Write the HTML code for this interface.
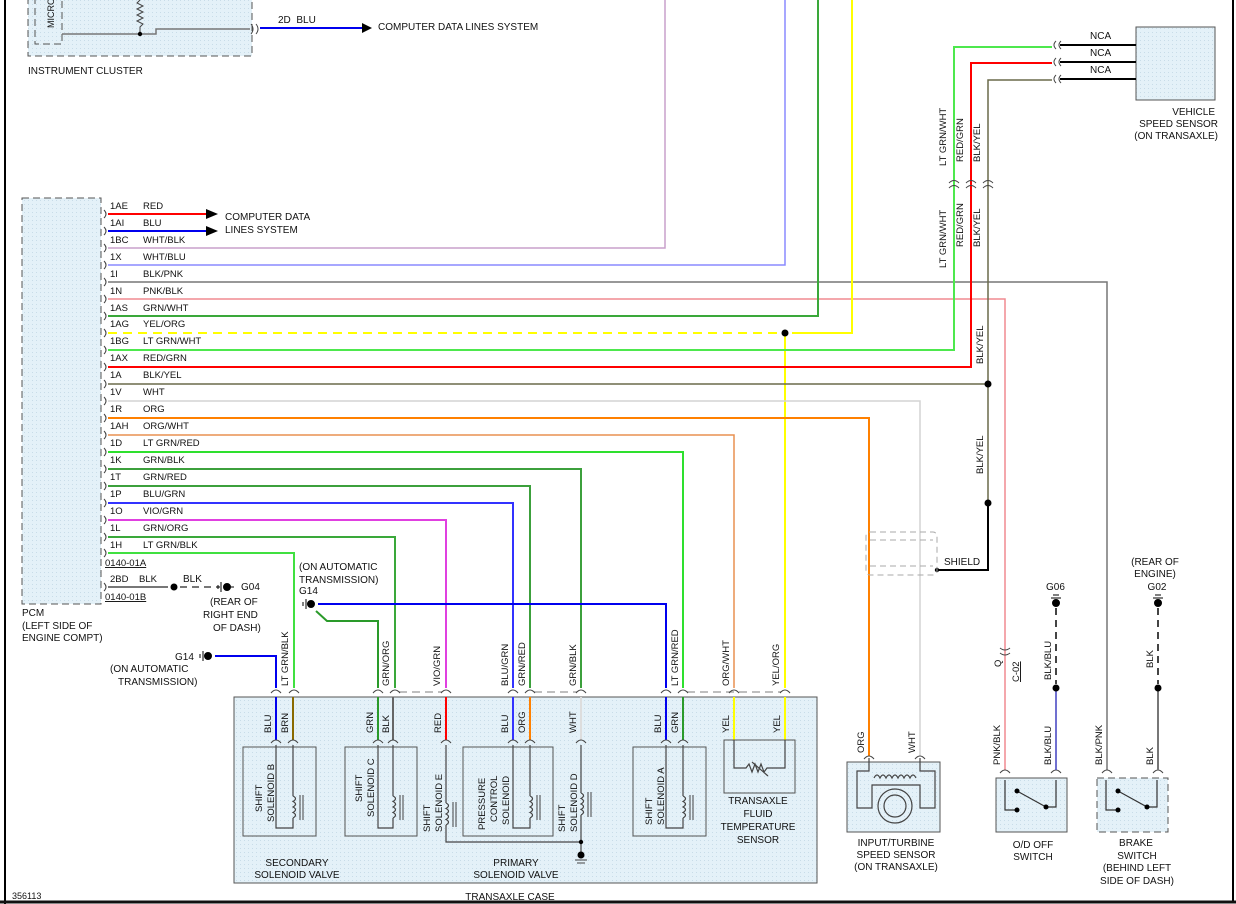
<!DOCTYPE html>
<html><head><meta charset="utf-8"><style>
html,body{margin:0;padding:0;background:#fff;}
svg{display:block;font-family:"Liberation Sans",sans-serif;font-size:10px;}
text{fill:#111;}
</style></head><body>
<svg width="1236" height="904" viewBox="0 0 1236 904" xmlns="http://www.w3.org/2000/svg">
<defs>
<pattern id="dots" width="4" height="4" patternUnits="userSpaceOnUse"><rect width="4" height="4" fill="#e4f1f8"/><rect width="1" height="1" fill="#c8dce8"/></pattern>
</defs>
<!-- frame -->
<line x1="5" y1="0" x2="5" y2="904" stroke="#000" stroke-width="2"/>
<line x1="1233" y1="0" x2="1233" y2="902" stroke="#000" stroke-width="2"/>
<line x1="0" y1="902" x2="1236" y2="902" stroke="#111" stroke-width="3"/>

<!-- instrument cluster -->
<rect x="28" y="-5" width="224" height="61" fill="url(#dots)" stroke="#555" stroke-dasharray="7,4"/>
<rect x="35" y="-5" width="27" height="49" fill="url(#dots)" stroke="#555" stroke-dasharray="7,4"/>
<text transform="translate(54,28) rotate(-90)" font-size="9">MICRO</text>
<polyline points="140,0 137,3 143,6 137,9 143,12 137,15 143,18 137,21 143,24 140,27 140,34" fill="none" stroke="#444"/>
<polyline points="62,34 156,34 156,29 250,29" fill="none" stroke="#777" stroke-width="1.5"/>
<circle cx="140" cy="34" r="2.2" fill="#000"/>
<path d="M251,24 q4,5 0,10 M256,24 q4,5 0,10" fill="none" stroke="#444"/>
<line x1="260" y1="28" x2="365" y2="28" stroke="#0000ee" stroke-width="2"/>
<polygon points="362,23 372,28 362,33" fill="#000"/>
<text x="278" y="23">2D&#160; BLU</text>
<text x="378" y="30">COMPUTER DATA LINES SYSTEM</text>
<text x="28" y="74">INSTRUMENT CLUSTER</text>

<!-- PCM -->
<rect x="22" y="198" width="79" height="406" fill="url(#dots)" stroke="#555" stroke-dasharray="7,4"/>
<text x="22" y="616">PCM</text><text x="22" y="629">(LEFT SIDE OF</text><text x="22" y="641">ENGINE COMPT)</text>
<g stroke="#444" fill="none">
<path d="M104,210 q4,4 0,8 M104,227 q4,4 0,8 M104,244 q4,4 0,8 M104,261 q4,4 0,8 M104,278 q4,4 0,8 M104,295 q4,4 0,8 M104,312 q4,4 0,8 M104,329 q4,4 0,8 M104,346 q4,4 0,8 M104,363 q4,4 0,8 M104,380 q4,4 0,8 M104,397 q4,4 0,8 M104,414 q4,4 0,8 M104,431 q4,4 0,8 M104,448 q4,4 0,8 M104,465 q4,4 0,8 M104,482 q4,4 0,8 M104,499 q4,4 0,8 M104,516 q4,4 0,8 M104,533 q4,4 0,8 M104,549 q4,4 0,8 M104,583 q4,4 0,8"/>
</g>
<g font-size="9.5">
<text x="110" y="209">1AE</text><text x="143" y="209">RED</text>
<text x="110" y="226">1AI</text><text x="143" y="226">BLU</text>
<text x="110" y="243">1BC</text><text x="143" y="243">WHT/BLK</text>
<text x="110" y="260">1X</text><text x="143" y="260">WHT/BLU</text>
<text x="110" y="277">1I</text><text x="143" y="277">BLK/PNK</text>
<text x="110" y="294">1N</text><text x="143" y="294">PNK/BLK</text>
<text x="110" y="311">1AS</text><text x="143" y="311">GRN/WHT</text>
<text x="110" y="327">1AG</text><text x="143" y="327">YEL/ORG</text>
<text x="110" y="344">1BG</text><text x="143" y="344">LT GRN/WHT</text>
<text x="110" y="361">1AX</text><text x="143" y="361">RED/GRN</text>
<text x="110" y="378">1A</text><text x="143" y="378">BLK/YEL</text>
<text x="110" y="395">1V</text><text x="143" y="395">WHT</text>
<text x="110" y="412">1R</text><text x="143" y="412">ORG</text>
<text x="110" y="429">1AH</text><text x="143" y="429">ORG/WHT</text>
<text x="110" y="446">1D</text><text x="143" y="446">LT GRN/RED</text>
<text x="110" y="463">1K</text><text x="143" y="463">GRN/BLK</text>
<text x="110" y="480">1T</text><text x="143" y="480">GRN/RED</text>
<text x="110" y="497">1P</text><text x="143" y="497">BLU/GRN</text>
<text x="110" y="514">1O</text><text x="143" y="514">VIO/GRN</text>
<text x="110" y="531">1L</text><text x="143" y="531">GRN/ORG</text>
<text x="110" y="548">1H</text><text x="143" y="548">LT GRN/BLK</text>
<text x="105" y="566" text-decoration="underline">0140-01A</text>
<text x="110" y="582">2BD</text><text x="139" y="582">BLK</text>
<text x="105" y="600" text-decoration="underline">0140-01B</text>
</g>

<!-- wires -->
<g fill="none" stroke-width="2">
<line x1="108" y1="214" x2="208" y2="214" stroke="#f00"/>
<line x1="108" y1="231" x2="208" y2="231" stroke="#00e"/>
<polyline points="108,248 665,248 665,0" stroke="#c8a0cc" stroke-width="1.5"/>
<polyline points="108,265 785,265 785,0" stroke="#8a8aff" stroke-width="1.5"/>
<polyline points="108,282 1107,282 1107,770" stroke="#777" stroke-width="1.5"/>
<polyline points="108,299 1005,299 1005,770" stroke="#f08a90" stroke-width="1.5"/>
<polyline points="108,316 818,316 818,0" stroke="#3aa83a"/>
<line x1="108" y1="333" x2="780" y2="333" stroke="#ff0" stroke-dasharray="9,6"/>
<polyline points="792,333 852,333 852,0" stroke="#ff0"/>
<line x1="785" y1="333" x2="785" y2="688" stroke="#ff0"/>
<polyline points="108,350 954,350 954,47 1052,47" stroke="#4de84d"/>
<polyline points="108,367 971,367 971,63 1052,63" stroke="#f00"/>
<polyline points="108,384 988,384" stroke="#6a6a4a" stroke-width="1.5"/>
<polyline points="988,503 988,80 1052,80" stroke="#6a6a4a" stroke-width="1.5"/>
<polyline points="108,401 920,401 920,756" stroke="#d4d4d4" stroke-width="1.5"/>
<polyline points="108,418 869,418 869,756" stroke="#ff8000"/>
<polyline points="108,435 734,435 734,688" stroke="#e89050" stroke-width="1.5"/>
<polyline points="108,452 683,452 683,688" stroke="#2ee02e"/>
<polyline points="108,469 581,469 581,688" stroke="#3ca03c"/>
<polyline points="108,486 530,486 530,688" stroke="#3ca03c"/>
<polyline points="108,503 513,503 513,688" stroke="#33f" />
<polyline points="108,520 446,520 446,688" stroke="#e040e0"/>
<polyline points="108,537 395,537 395,688" stroke="#3aa83a"/>
<polyline points="108,553 294,553 294,688" stroke="#40e040"/>
<line x1="108" y1="587" x2="168" y2="587" stroke="#777"/>
<line x1="180" y1="587" x2="220" y2="587" stroke="#777" stroke-dasharray="7,5"/>
<polyline points="318,604 666,604 666,688" stroke="#00e"/>
<polyline points="316,611 327,621 378,621 378,688" stroke="#2a9a2a"/>
<polyline points="215,656 276,656 276,688" stroke="#00e"/>
<polyline points="988,503 988,570 937,570" stroke="#000"/>
</g>
<polygon points="206,209 218,214 206,219" fill="#000"/>
<polygon points="206,226 218,231 206,236" fill="#000"/>
<text x="225" y="220">COMPUTER DATA</text><text x="225" y="233">LINES SYSTEM</text>
<circle cx="785" cy="333" r="3.5" fill="#000"/>
<circle cx="988" cy="384" r="3.5" fill="#000"/>
<circle cx="988" cy="503" r="3.5" fill="#000"/>
<circle cx="937" cy="570" r="2.2" fill="#000"/>
<circle cx="174" cy="587" r="3.5" fill="#000"/>
<!-- grounds -->
<g stroke="#000" fill="#000">
<circle cx="227" cy="587" r="3.5"/><line x1="221" y1="582" x2="221" y2="592"/><line x1="218" y1="585" x2="218" y2="589"/><line x1="231" y1="587" x2="234" y2="587"/>
<circle cx="311" cy="604" r="3.5"/><line x1="306" y1="599" x2="306" y2="609"/><line x1="303" y1="602" x2="303" y2="606"/>
<circle cx="208" cy="656" r="3.5"/><line x1="203" y1="651" x2="203" y2="661"/><line x1="200" y1="654" x2="200" y2="658"/>
<circle cx="1056" cy="603" r="3.5"/><line x1="1051" y1="598" x2="1061" y2="598"/><line x1="1053" y1="595" x2="1059" y2="595"/>
<circle cx="1158" cy="603" r="3.5"/><line x1="1153" y1="598" x2="1163" y2="598"/><line x1="1155" y1="595" x2="1161" y2="595"/>
</g>
<text x="183" y="582">BLK</text><text x="241" y="590">G04</text>
<text x="210" y="605">(REAR OF</text><text x="203" y="618">RIGHT END</text><text x="213" y="631">OF DASH)</text>
<text x="299" y="570">(ON AUTOMATIC</text><text x="299" y="583">TRANSMISSION)</text><text x="299" y="594">G14</text>
<text x="175" y="660">G14</text><text x="110" y="672">(ON AUTOMATIC</text><text x="118" y="685">TRANSMISSION)</text>

<!-- vertical labels above case -->
<g font-size="9.5">
<text transform="translate(288,686) rotate(-90)">LT GRN/BLK</text>
<text transform="translate(389,686) rotate(-90)">GRN/ORG</text>
<text transform="translate(440,686) rotate(-90)">VIO/GRN</text>
<text transform="translate(508,686) rotate(-90)">BLU/GRN</text>
<text transform="translate(525,686) rotate(-90)">GRN/RED</text>
<text transform="translate(576,686) rotate(-90)">GRN/BLK</text>
<text transform="translate(678,686) rotate(-90)">LT GRN/RED</text>
<text transform="translate(729,686) rotate(-90)">ORG/WHT</text>
<text transform="translate(779,686) rotate(-90)">YEL/ORG</text>
</g>
<g stroke="#aaa" stroke-dasharray="8,5" stroke-width="1.5"><line x1="399" y1="692" x2="442" y2="692"/><line x1="534" y1="692" x2="577" y2="692"/><line x1="687" y1="692" x2="781" y2="692"/></g>

<!-- transaxle case -->
<rect x="234" y="697" width="583" height="186" fill="url(#dots)" stroke="#555"/>
<text x="510" y="900" text-anchor="middle">TRANSAXLE CASE</text>
<g fill="none" stroke-width="2">
<line x1="276" y1="697" x2="276" y2="740" stroke="#00e"/>
<line x1="293" y1="697" x2="293" y2="740" stroke="#8a6a00"/>
<line x1="378" y1="697" x2="378" y2="740" stroke="#2a9a2a"/>
<line x1="393" y1="697" x2="393" y2="740" stroke="#666"/>
<line x1="446" y1="697" x2="446" y2="740" stroke="#f00"/>
<line x1="513" y1="697" x2="513" y2="740" stroke="#33f"/>
<line x1="530" y1="697" x2="530" y2="740" stroke="#ff8000"/>
<line x1="581" y1="697" x2="581" y2="740" stroke="#ddd"/>
<line x1="666" y1="697" x2="666" y2="740" stroke="#00e"/>
<line x1="683" y1="697" x2="683" y2="740" stroke="#2a9a2a"/>
<line x1="734" y1="697" x2="734" y2="740" stroke="#ff0"/>
<line x1="785" y1="697" x2="785" y2="740" stroke="#ff0"/>
</g>
<!-- connector arcs -->
<g fill="none" stroke="#444">
<path d="M289,693 q5,-6 10,0 M390,693 q5,-6 10,0 M441,693 q5,-6 10,0 M508,693 q5,-6 10,0 M525,693 q5,-6 10,0 M576,693 q5,-6 10,0 M661,693 q5,-6 10,0 M678,693 q5,-6 10,0 M729,693 q5,-6 10,0 M780,693 q5,-6 10,0 M271,693 q5,-6 10,0 M373,693 q5,-6 10,0"/>
<path d="M271,743 q5,-6 10,0 M288,743 q5,-6 10,0 M373,743 q5,-6 10,0 M388,743 q5,-6 10,0 M441,743 q5,-6 10,0 M508,743 q5,-6 10,0 M525,743 q5,-6 10,0 M576,743 q5,-6 10,0 M661,743 q5,-6 10,0 M678,743 q5,-6 10,0"/>
<path d="M864,759 q5,-6 10,0 M915,759 q5,-6 10,0 M1000,773 q5,-6 10,0 M1051,773 q5,-6 10,0 M1102,773 q5,-6 10,0 M1153,773 q5,-6 10,0"/>
</g>
<g font-size="9.5">
<text transform="translate(271,733) rotate(-90)">BLU</text><text transform="translate(288,733) rotate(-90)">BRN</text>
<text transform="translate(373,733) rotate(-90)">GRN</text><text transform="translate(389,733) rotate(-90)">BLK</text>
<text transform="translate(441,733) rotate(-90)">RED</text>
<text transform="translate(508,733) rotate(-90)">BLU</text><text transform="translate(525,733) rotate(-90)">ORG</text>
<text transform="translate(576,733) rotate(-90)">WHT</text>
<text transform="translate(661,733) rotate(-90)">BLU</text><text transform="translate(678,733) rotate(-90)">GRN</text>
<text transform="translate(729,733) rotate(-90)">YEL</text><text transform="translate(780,733) rotate(-90)">YEL</text>
</g>
<!-- solenoid boxes -->
<g fill="none" stroke="#555">
<rect x="243" y="747" width="73" height="89"/>
<rect x="345" y="747" width="72" height="89"/>
<rect x="463" y="747" width="90" height="89"/>
<rect x="633" y="747" width="73" height="89"/>
<rect x="724" y="740" width="71" height="53"/>
</g>
<g fill="none" stroke="#444" stroke-width="1.2">
<polyline points="276,745 276,828 293,828 293,818"/><line x1="293" y1="745" x2="293" y2="796"/>
<path d="M293,796 q5,2.5 0,5.5 q5,2.5 0,5.5 q5,2.5 0,5.5 q5,2.5 0,5.5"/>
<polyline points="378,745 378,828 393,828 393,818"/><line x1="393" y1="745" x2="393" y2="796"/>
<path d="M393,796 q5,2.5 0,5.5 q5,2.5 0,5.5 q5,2.5 0,5.5 q5,2.5 0,5.5"/>
<line x1="446" y1="745" x2="446" y2="803"/>
<path d="M446,803 q5,2.5 0,5.5 q5,2.5 0,5.5 q5,2.5 0,5.5 q5,2.5 0,5.5"/>
<polyline points="446,825 446,842 581,842"/>
<polyline points="513,745 513,828 530,828 530,818"/><line x1="530" y1="745" x2="530" y2="796"/>
<path d="M530,796 q5,2.5 0,5.5 q5,2.5 0,5.5 q5,2.5 0,5.5 q5,2.5 0,5.5"/>
<line x1="581" y1="745" x2="581" y2="793"/>
<path d="M581,793 q5,2.5 0,5.5 q5,2.5 0,5.5 q5,2.5 0,5.5 q5,2.5 0,5.5"/>
<line x1="581" y1="815" x2="581" y2="855"/>
<polyline points="666,745 666,828 683,828 683,818"/><line x1="683" y1="745" x2="683" y2="796"/>
<path d="M683,796 q5,2.5 0,5.5 q5,2.5 0,5.5 q5,2.5 0,5.5 q5,2.5 0,5.5"/>
<polyline points="734,740 734,768 746,768 749,764 752,772 755,764 758,772 761,764 764,772 767,768 785,768 785,740"/>
<line x1="752" y1="762" x2="768" y2="776"/>
</g>
<g stroke="#444"><line x1="300" y1="795" x2="300" y2="820"/><line x1="303" y1="795" x2="303" y2="820"/>
<line x1="400" y1="795" x2="400" y2="820"/><line x1="403" y1="795" x2="403" y2="820"/>
<line x1="453" y1="802" x2="453" y2="827"/><line x1="456" y1="802" x2="456" y2="827"/>
<line x1="537" y1="795" x2="537" y2="820"/><line x1="540" y1="795" x2="540" y2="820"/>
<line x1="588" y1="792" x2="588" y2="817"/><line x1="591" y1="792" x2="591" y2="817"/>
<line x1="690" y1="795" x2="690" y2="820"/><line x1="693" y1="795" x2="693" y2="820"/>
<line x1="575" y1="860" x2="587" y2="860"/><line x1="577" y1="863" x2="585" y2="863"/></g>
<circle cx="581" cy="842" r="2.2" fill="#000"/><circle cx="581" cy="855" r="3.5" fill="#000"/>
<g font-size="9.5">
<text transform="translate(262,812) rotate(-90)">SHIFT</text><text transform="translate(274,822) rotate(-90)">SOLENOID B</text>
<text transform="translate(362,802) rotate(-90)">SHIFT</text><text transform="translate(374,817) rotate(-90)">SOLENOID C</text>
<text transform="translate(430,832) rotate(-90)">SHIFT</text><text transform="translate(442,832) rotate(-90)">SOLENOID E</text>
<text transform="translate(485,830) rotate(-90)">PRESSURE</text><text transform="translate(497,822) rotate(-90)">CONTROL</text><text transform="translate(509,825) rotate(-90)">SOLENOID</text>
<text transform="translate(565,832) rotate(-90)">SHIFT</text><text transform="translate(577,832) rotate(-90)">SOLENOID D</text>
<text transform="translate(652,825) rotate(-90)">SHIFT</text><text transform="translate(664,825) rotate(-90)">SOLENOID A</text>
</g>
<g text-anchor="middle">
<text x="297" y="866">SECONDARY</text><text x="297" y="878">SOLENOID VALVE</text>
<text x="516" y="866">PRIMARY</text><text x="516" y="878">SOLENOID VALVE</text>
<text x="758" y="804">TRANSAXLE</text><text x="758" y="817">FLUID</text><text x="758" y="830">TEMPERATURE</text><text x="758" y="843">SENSOR</text>
</g>

<!-- shield -->
<g fill="none" stroke="#aaa" stroke-dasharray="6,4">
<rect x="866" y="532" width="71" height="43" rx="4"/><line x1="870" y1="540" x2="933" y2="540"/><line x1="870" y1="566" x2="933" y2="566"/>
</g>
<text x="944" y="565">SHIELD</text>

<!-- input turbine sensor -->
<rect x="847" y="762" width="93" height="70" fill="url(#dots)" stroke="#555"/>
<g fill="none" stroke="#444" stroke-width="1.2">
<polyline points="869,758 869,771 857,771 857,808 872,808 872,785 920,785 920,808 935,808 935,771 920,771 920,758"/>
<path d="M874,778 q3,-6 6,0 q3,-6 6,0 q3,-6 6,0 q3,-6 6,0 q3,-6 6,0 q3,-6 6,0 q3,-6 6,0"/>
<circle cx="895" cy="806" r="17"/><circle cx="895" cy="806" r="11"/>
</g>
<g text-anchor="middle"><text x="896" y="846">INPUT/TURBINE</text><text x="896" y="858">SPEED SENSOR</text><text x="896" y="870">(ON TRANSAXLE)</text></g>
<text transform="translate(864,753) rotate(-90)" font-size="9.5">ORG</text>
<text transform="translate(915,753) rotate(-90)" font-size="9.5">WHT</text>

<!-- O/D switch & brake -->
<g fill="none" stroke-width="2">
<line x1="1056" y1="608" x2="1056" y2="684" stroke="#444" stroke-dasharray="7,5"/>
<line x1="1056" y1="688" x2="1056" y2="770" stroke="#4040c0" stroke-width="1.5"/>
<line x1="1158" y1="608" x2="1158" y2="684" stroke="#444" stroke-dasharray="7,5"/>
<line x1="1158" y1="688" x2="1158" y2="770" stroke="#777"/>
</g>
<circle cx="1056" cy="688" r="3.5" fill="#000"/><circle cx="1158" cy="688" r="3.5" fill="#000"/>
<path d="M1000,648 q5,4 10,0 M1000,653 q5,4 10,0" fill="none" stroke="#444"/>
<text transform="translate(1001,667) rotate(-90)" font-size="9.5">Q</text>
<text transform="translate(1019,682) rotate(-90)" font-size="9.5" text-decoration="underline">C-02</text>
<text transform="translate(1051,680) rotate(-90)" font-size="9.5">BLK/BLU</text>
<text transform="translate(1153,668) rotate(-90)" font-size="9.5">BLK</text>
<text transform="translate(1000,765) rotate(-90)" font-size="9.5">PNK/BLK</text>
<text transform="translate(1051,765) rotate(-90)" font-size="9.5">BLK/BLU</text>
<text transform="translate(1102,765) rotate(-90)" font-size="9.5">BLK/PNK</text>
<text transform="translate(1153,765) rotate(-90)" font-size="9.5">BLK</text>
<text x="1046" y="590">G06</text>
<g text-anchor="middle"><text x="1155" y="565">(REAR OF</text><text x="1155" y="577">ENGINE)</text><text x="1157" y="590">G02</text></g>
<rect x="996" y="778" width="71" height="54" fill="url(#dots)" stroke="#555"/>
<rect x="1097" y="778" width="71" height="54" fill="url(#dots)" stroke="#555" stroke-dasharray="7,4"/>
<g fill="none" stroke="#333" stroke-width="1.2">
<polyline points="1005,780 1005,810 1016,810"/><polyline points="1056,780 1056,807 1046,807"/><line x1="1017" y1="791" x2="1046" y2="807"/>
<polyline points="1106,780 1106,810 1117,810"/><polyline points="1157,780 1157,807 1147,807"/><line x1="1118" y1="791" x2="1147" y2="807"/>
</g>
<g fill="#000"><circle cx="1017" cy="791" r="2.5"/><circle cx="1046" cy="807" r="2.5"/><circle cx="1017" cy="810" r="2.5"/>
<circle cx="1118" cy="791" r="2.5"/><circle cx="1147" cy="807" r="2.5"/><circle cx="1118" cy="810" r="2.5"/></g>
<g text-anchor="middle"><text x="1033" y="848">O/D OFF</text><text x="1033" y="860">SWITCH</text>
<text x="1136" y="846">BRAKE</text><text x="1137" y="859">SWITCH</text><text x="1137" y="871">(BEHIND LEFT</text><text x="1137" y="884">SIDE OF DASH)</text></g>

<!-- vehicle speed sensor -->
<rect x="1136" y="27" width="79" height="73" fill="url(#dots)" stroke="#555"/>
<g stroke="#000" stroke-width="2"><line x1="1060" y1="45" x2="1136" y2="45"/><line x1="1060" y1="62" x2="1136" y2="62"/><line x1="1060" y1="79" x2="1136" y2="79"/></g>
<path d="M1056,41 q-4,4 0,8 M1061,41 q-4,4 0,8 M1056,58 q-4,4 0,8 M1061,58 q-4,4 0,8 M1056,75 q-4,4 0,8 M1061,75 q-4,4 0,8" fill="none" stroke="#444"/>
<text x="1090" y="39">NCA</text><text x="1090" y="56">NCA</text><text x="1090" y="73">NCA</text>
<g text-anchor="end"><text x="1215" y="115">VEHICLE</text><text x="1218" y="127">SPEED SENSOR</text><text x="1218" y="139">(ON TRANSAXLE)</text></g>
<path d="M949,188 q5,-5 10,0 M949,183 q5,-5 10,0 M966,188 q5,-5 10,0 M966,183 q5,-5 10,0 M983,188 q5,-5 10,0 M983,183 q5,-5 10,0" fill="none" stroke="#444"/>
<g font-size="9.5">
<text transform="translate(946,166) rotate(-90)">LT GRN/WHT</text><text transform="translate(963,162) rotate(-90)">RED/GRN</text><text transform="translate(980,162) rotate(-90)">BLK/YEL</text>
<text transform="translate(946,268) rotate(-90)">LT GRN/WHT</text><text transform="translate(963,247) rotate(-90)">RED/GRN</text><text transform="translate(980,247) rotate(-90)">BLK/YEL</text>
<text transform="translate(983,364) rotate(-90)">BLK/YEL</text><text transform="translate(983,474) rotate(-90)">BLK/YEL</text>
</g>
<text x="12" y="899" font-size="9">356113</text>
</svg>
</body></html>
